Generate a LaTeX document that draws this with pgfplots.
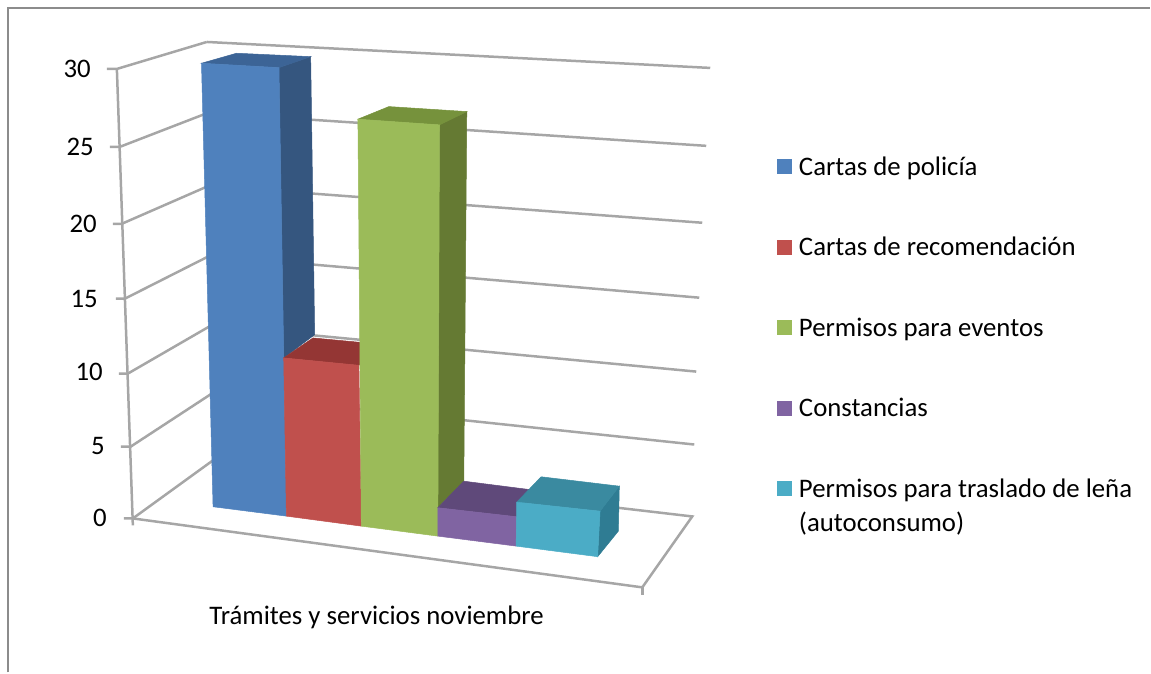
\documentclass[border=0pt]{standalone}
\usepackage{pgfplots}
\pgfplotsset{compat=1.18}
\usepackage{fontspec}
\setmainfont{Carlito}
\definecolor{gridg}{HTML}{A6A6A6}
\definecolor{frameg}{HTML}{8C8C8C}
\definecolor{bF}{HTML}{4F81BD}\definecolor{bT}{HTML}{3C6496}\definecolor{bS}{HTML}{35567F}
\definecolor{rF}{HTML}{C0504D}\definecolor{rT}{HTML}{943634}
\definecolor{gF}{HTML}{9BBB59}\definecolor{gT}{HTML}{76923C}\definecolor{gS}{HTML}{657A33}
\definecolor{pF}{HTML}{8064A2}\definecolor{pT}{HTML}{5F497A}
\definecolor{cF}{HTML}{4BACC6}\definecolor{cT}{HTML}{3A8AA0}\definecolor{cS}{HTML}{2F7C93}
\newcommand{\gline}[1]{\addplot[gridg,line width=2.5pt,forget plot] coordinates {#1};}
\newcommand{\face}[2]{\addplot[fill=#1,draw=#1,line width=0.5pt,forget plot] coordinates {#2} --cycle;}
\newcommand{\ylab}[3]{\node[anchor=mid east,inner sep=0pt] at (axis cs:#1,#2) {#3};}
\begin{document}
\begin{tikzpicture}[font=\fontsize{26.8}{32}\selectfont]
\begin{axis}[
  scale only axis, width=1151pt, height=673pt,
  xmin=0, xmax=1151, ymin=0, ymax=673, y dir=reverse,
  axis lines=none, clip=false, no markers,
  legend cell align=left,
  legend image code/.code={\path[#1,draw=none] (0pt,-7.5pt) rectangle (15pt,7.5pt);},
  legend style={at={(axis description cs:0.6758,0.7668)}, anchor=north west, draw=none, fill=none,
    inner sep=0pt, outer sep=0pt, row sep=60.5pt, column sep=7pt,
    nodes={inner sep=0pt, outer sep=0pt, font=\fontsize{26.8}{32}\selectfont}},
]
\path (axis cs:0,0) rectangle (axis cs:1151,673);
% outer frame (open at the right and the bottom)
\addplot[frameg,line width=2.5pt,forget plot] coordinates {(8,673) (8,8) (1151,8)};
% back wall gridlines: values 30, 25, 20, 15, 10, 5
\gline{(207,42) (711,68)}
\gline{(208,113) (707,146)}
\gline{(209,186) (703,223)}
\gline{(210,256) (700,298)}
\gline{(211,326) (697,372)}
\gline{(212,394) (695,445)}
% left wall gridlines with tick marks
\gline{(107,69) (117,69) (207,42)}
\gline{(110,147) (120,147) (208,113)}
\gline{(113,224) (122,224) (209,186)}
\gline{(116,299) (125,299) (210,256)}
\gline{(119,374) (128,374) (211,326)}
\gline{(121,447) (131,447) (212,394)}
\gline{(124,519) (133,519) (213,461)}
% left vertical axis
\gline{(117,69) (133,526)}
% floor
\gline{(133,519) (643,588) (693,517) (213,461)}
\gline{(643,588) (643,596)}
% bar 1: Cartas de policia (30)
\face{bS}{(279.3,67.7) (311,56.7) (315,335) (284,358.3)}
\face{bT}{(201.7,63.3) (236.7,53.3) (311,56.7) (279.3,67.7)}
\addplot[fill=bF,draw=bF,line width=0.5pt] coordinates {(201.7,63.3) (279.3,67.7) (286.7,516.7) (213.3,507.3)} --cycle;
\addlegendentry{Cartas de policía}
% bar 2: Cartas de recomendacion (10)
\face{rT}{(284,358.3) (313.3,338.3) (385,345) (359.3,365.7)}
\addplot[fill=rF,draw=rF,line width=0.5pt] coordinates {(284,358.3) (359.3,365.7) (361.7,526.7) (286.7,516.7)} --cycle;
\addlegendentry{Cartas de recomendación}
% bar 3: Permisos para eventos (26.5)
\face{gS}{(440,125) (467.3,111.7) (464.3,481.7) (438.3,508.3)}
\face{gT}{(358.3,119.3) (389.3,106.7) (467.3,111.7) (440,125)}
\addplot[fill=gF,draw=gF,line width=0.5pt] coordinates {(358.3,119.3) (440,125) (438.3,536.7) (361.7,526.7)} --cycle;
\addlegendentry{Permisos para eventos}
% bar 4: Constancias (2)
\face{pT}{(438.3,508.3) (464.3,481.7) (529.3,490) (517.3,517.3)}
\addplot[fill=pF,draw=pF,line width=0.5pt] coordinates {(438.3,508.3) (517.3,517.3) (516.7,546.7) (438.3,536.7)} --cycle;
\addlegendentry{Constancias}
% bar 5: Permisos para traslado de lena (3)
\face{cS}{(600.7,511.7) (620,486.7) (619,531.7) (598.3,557.3)}
\face{cT}{(517.3,502.7) (541.7,477.3) (620,486.7) (600.7,511.7)}
\addplot[fill=cF,draw=cF,line width=0.5pt] coordinates {(517.3,502.7) (600.7,511.7) (598.3,557.3) (516.7,546.7)} --cycle;
\addlegendentry{\raisebox{0pt}[19pt][6pt]{\begin{tabular}[t]{@{}l@{}}Permisos para traslado de leña\\[2pt](autoconsumo)\end{tabular}}}
% value axis labels
\ylab{91}{75}{30}
\ylab{94}{153}{25}
\ylab{97}{230}{20}
\ylab{98}{305}{15}
\ylab{103}{379}{10}
\ylab{105}{453}{5}
\ylab{107}{525}{0}
\node[anchor=mid,inner sep=0pt] at (axis cs:377,623) {Trámites y servicios noviembre};
\end{axis}
\end{tikzpicture}
\end{document}
